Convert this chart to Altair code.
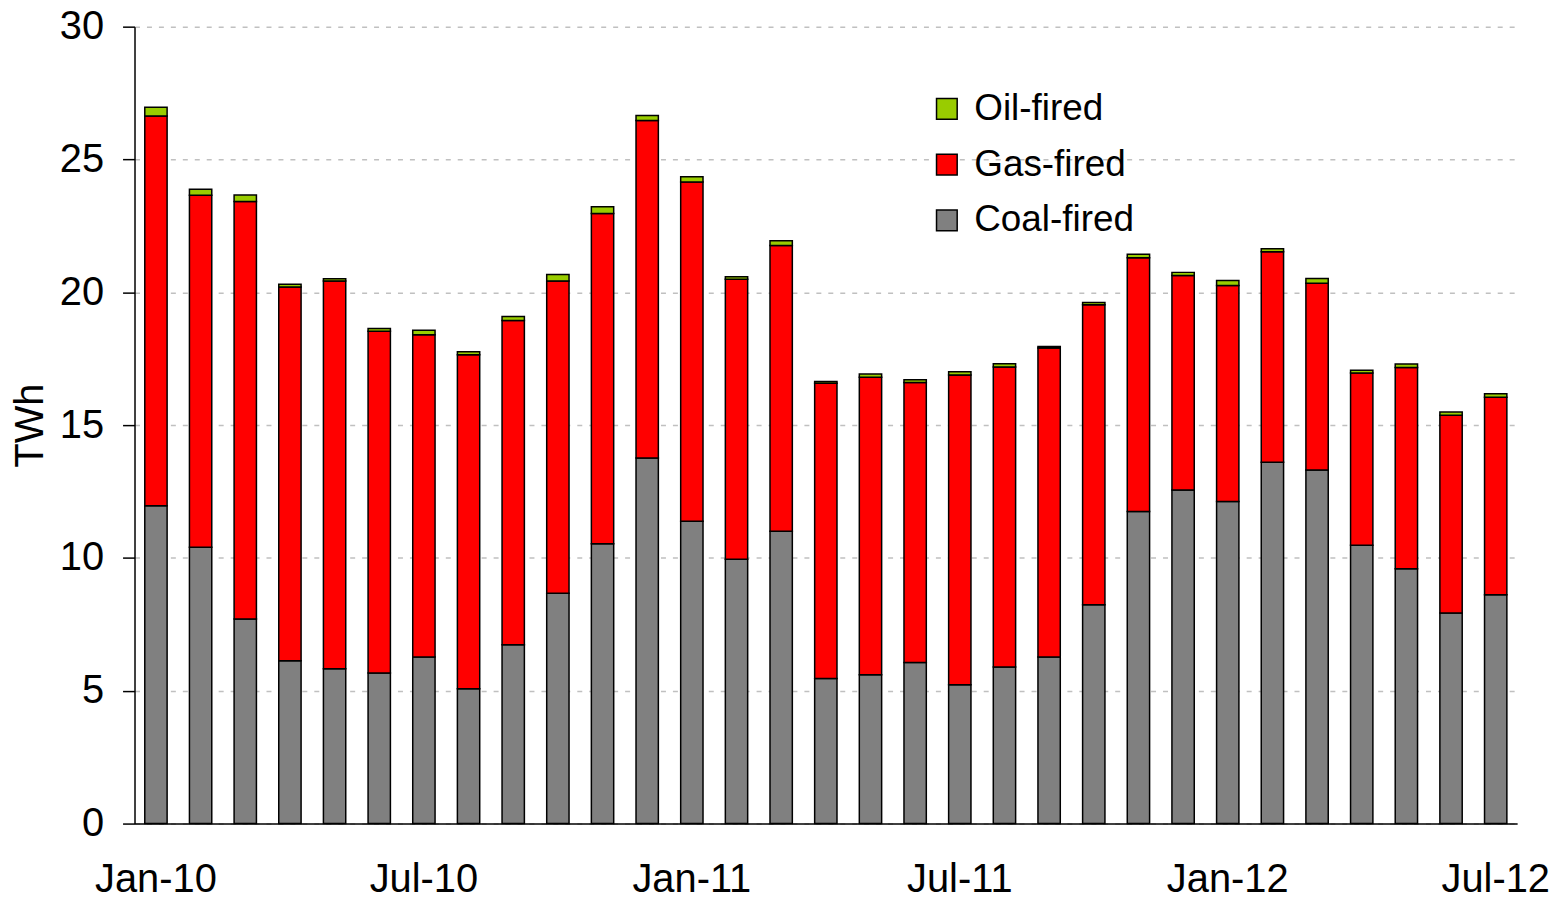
import altair as alt
import pandas as pd

months = ["Jan-10", "Feb-10", "Mar-10", "Apr-10", "May-10", "Jun-10", "Jul-10", "Aug-10",
          "Sep-10", "Oct-10", "Nov-10", "Dec-10", "Jan-11", "Feb-11", "Mar-11", "Apr-11",
          "May-11", "Jun-11", "Jul-11", "Aug-11", "Sep-11", "Oct-11", "Nov-11", "Dec-11",
          "Jan-12", "Feb-12", "Mar-12", "Apr-12", "May-12", "Jun-12", "Jul-12"]

coal = [11.96, 10.40, 7.70, 6.13, 5.83, 5.67, 6.27, 5.08, 6.73, 8.67, 10.53, 13.76,
        11.38, 9.95, 11.00, 5.46, 5.60, 6.06, 5.23, 5.89, 6.27, 8.24, 11.75, 12.56,
        12.12, 13.60, 13.31, 10.48, 9.59, 7.93, 8.61]
gas = [14.68, 13.25, 15.72, 14.07, 14.60, 12.86, 12.13, 12.57, 12.21, 11.76, 12.44, 12.71,
       12.77, 10.54, 10.76, 11.12, 11.20, 10.54, 11.66, 11.30, 11.63, 11.29, 9.55, 8.07,
       8.14, 7.93, 7.03, 6.48, 7.58, 7.44, 7.44]
oil = [0.33, 0.23, 0.24, 0.10, 0.08, 0.11, 0.17, 0.11, 0.15, 0.24, 0.25, 0.19,
       0.20, 0.10, 0.18, 0.06, 0.12, 0.11, 0.12, 0.12, 0.06, 0.09, 0.13, 0.12,
       0.18, 0.11, 0.18, 0.11, 0.13, 0.12, 0.13]

series_names = ["Oil-fired", "Gas-fired", "Coal-fired"]
series_colors = ["#99CC00", "#FF0000", "#808080"]
x_labels = ["Jan-10", "Jul-10", "Jan-11", "Jul-11", "Jan-12", "Jul-12"]
y_ticks = [0, 5, 10, 15, 20, 25, 30]

rows = []
for i, m in enumerate(months):
    rows.append({"month": m, "source": "Coal-fired", "value": coal[i], "ord": 0})
    rows.append({"month": m, "source": "Gas-fired", "value": gas[i], "ord": 1})
    rows.append({"month": m, "source": "Oil-fired", "value": oil[i], "ord": 2})
df = pd.DataFrame(rows)

chart = alt.Chart(df).mark_bar(stroke="black", strokeWidth=1.5).encode(
    x=alt.X("month:N", sort=months,
            scale=alt.Scale(paddingInner=0.5, paddingOuter=0.23),
            axis=alt.Axis(values=x_labels, title=None, ticks=False, labelAngle=0,
                          labelFontSize=40, labelPadding=36, labelColor="black",
                          domainColor="black", domainWidth=1.5, grid=False)),
    y=alt.Y("value:Q", stack="zero",
            scale=alt.Scale(domain=[0, 30], nice=False),
            axis=alt.Axis(values=y_ticks, title="TWh", titleFontSize=40,
                          titleFontWeight="normal", titleColor="black", titlePadding=9,
                          labelFontSize=40, labelColor="black", labelPadding=19,
                          tickSize=12, tickColor="black", tickWidth=1.5,
                          domainColor="black", domainWidth=1.5,
                          grid=True, gridColor="#c0c0c0", gridDash=[5, 7], gridWidth=1.5)),
    color=alt.Color("source:N",
                    scale=alt.Scale(domain=series_names, range=series_colors),
                    legend=alt.Legend(orient="none", legendX=797, legendY=64, title=None,
                                      symbolType="square", symbolSize=430,
                                      symbolStrokeColor="black", symbolStrokeWidth=1.5,
                                      labelFontSize=37, labelColor="black", labelLimit=400,
                                      rowPadding=18, labelOffset=9, padding=0)),
    order=alt.Order("ord:Q"),
).properties(
    width=1388, height=800,
    autosize=alt.AutoSizeParams(type="none"),
    padding={"left": 127, "top": 17, "right": 36, "bottom": 78},
).configure(
    font="Liberation Sans", background="white"
).configure_view(stroke=None)

chart.save("out.html", embed_options={"renderer": "svg", "actions": False})
